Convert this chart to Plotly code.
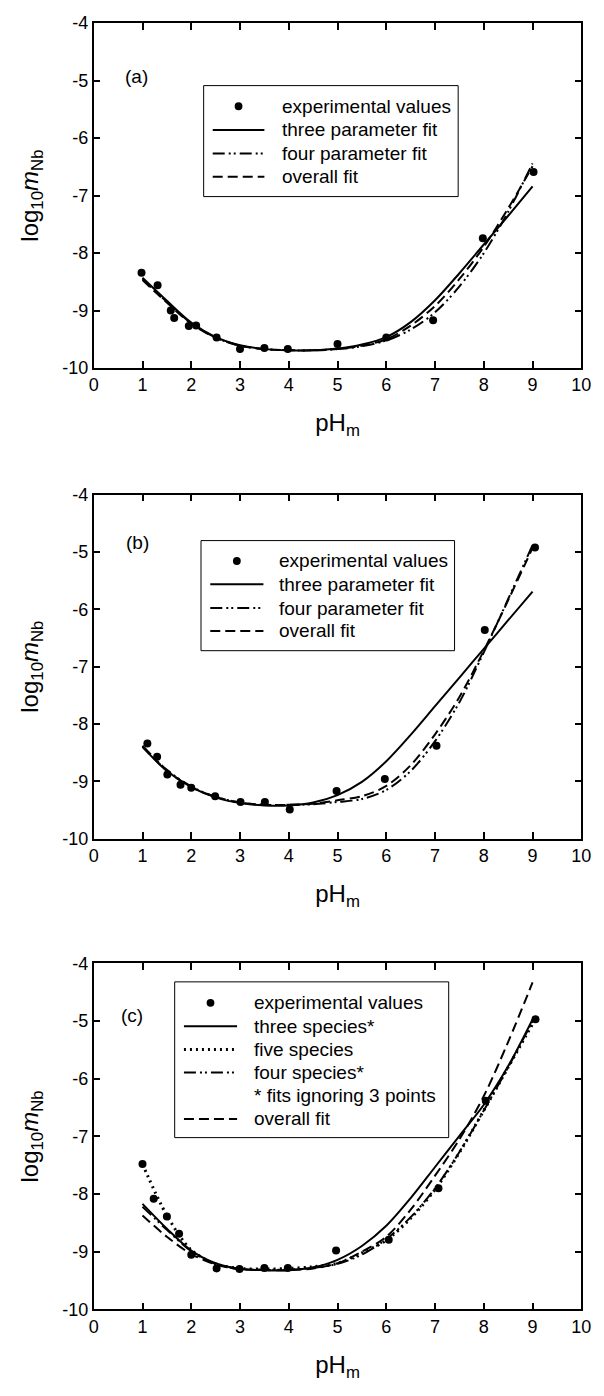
import plotly.graph_objects as go

W, H = 604, 1396

# ---------------- data ----------------
fit_x = [1.0, 1.5, 2.0, 2.5, 3.0, 3.5, 4.0, 4.5, 5.0, 5.5, 6.0, 6.5, 7.0, 7.5, 8.0, 8.5, 9.0]

# panel (a)
a_exp_x = [0.98, 1.31, 1.58, 1.65, 1.95, 2.10, 2.52, 3.00, 3.50, 3.98, 5.00, 6.00, 6.96, 7.98, 9.02]
a_exp_y = [-8.34, -8.56, -9.00, -9.13, -9.27, -9.26, -9.47, -9.67, -9.65, -9.67, -9.58, -9.47, -9.17, -7.74, -6.59]
a_three = [-8.43, -8.83, -9.21, -9.46, -9.60, -9.67, -9.69, -9.69, -9.66, -9.59, -9.46, -9.20, -8.82, -8.35, -7.85, -7.35, -6.84]
a_four = [-8.45, -8.85, -9.22, -9.47, -9.61, -9.67, -9.69, -9.69, -9.67, -9.62, -9.52, -9.33, -9.03, -8.58, -8.00, -7.28, -6.44]
a_overall = [-8.47, -8.86, -9.23, -9.47, -9.61, -9.67, -9.69, -9.69, -9.67, -9.61, -9.50, -9.26, -8.92, -8.45, -7.89, -7.22, -6.49]

# panel (b)
b_exp_x = [1.10, 1.30, 1.51, 1.78, 2.00, 2.49, 3.01, 3.51, 4.02, 4.98, 5.97, 7.03, 8.02, 9.05]
b_exp_y = [-8.34, -8.57, -8.88, -9.06, -9.11, -9.26, -9.36, -9.36, -9.49, -9.17, -8.96, -8.38, -6.36, -4.92]
b_three = [-8.40, -8.82, -9.10, -9.28, -9.38, -9.42, -9.42, -9.37, -9.24, -9.01, -8.65, -8.19, -7.69, -7.19, -6.69, -6.19, -5.69]
b_four = [-8.38, -8.80, -9.09, -9.27, -9.37, -9.41, -9.41, -9.40, -9.36, -9.31, -9.15, -8.82, -8.30, -7.62, -6.75, -5.82, -4.88]
b_overall = [-8.40, -8.81, -9.10, -9.27, -9.37, -9.41, -9.41, -9.39, -9.33, -9.26, -9.08, -8.72, -8.18, -7.53, -6.72, -5.84, -4.93]

# panel (c)
c_exp_x = [1.00, 1.23, 1.50, 1.75, 2.00, 2.52, 2.99, 3.50, 3.98, 4.97, 6.05, 7.07, 8.04, 9.06]
c_exp_y = [-7.48, -8.08, -8.39, -8.69, -9.05, -9.29, -9.30, -9.28, -9.28, -8.98, -8.79, -7.90, -6.38, -4.97]
c_three = [-8.17, -8.60, -8.98, -9.20, -9.30, -9.32, -9.32, -9.27, -9.14, -8.90, -8.55, -8.07, -7.53, -6.99, -6.45, -5.78, -4.97]
c_five = [-7.48, -8.37, -8.97, -9.21, -9.29, -9.30, -9.29, -9.26, -9.20, -9.02, -8.80, -8.42, -7.92, -7.28, -6.55, -5.80, -5.05]
c_four = [-8.22, -8.62, -8.99, -9.21, -9.30, -9.31, -9.31, -9.28, -9.21, -9.05, -8.78, -8.40, -7.90, -7.27, -6.55, -5.80, -5.00]
c_overall = [-8.37, -8.74, -9.04, -9.22, -9.30, -9.32, -9.32, -9.29, -9.20, -9.00, -8.74, -8.27, -7.68, -7.05, -6.30, -5.36, -4.33]

tick_vals_x = [0, 1, 2, 3, 4, 5, 6, 7, 8, 9, 10]
tick_text_x = ["0", "1", "2", "3", "4", "5", "6", "7", "8", "9", "10"]
tick_vals_y = [-10, -9, -8, -7, -6, -5, -4]
tick_text_y = ["-10", "-9", "-8", "-7", "-6", "-5", "-4"]

# ---------------- styles ----------------
FONT = "Liberation Sans, Arial, sans-serif"
SOLID = dict(color="black", width=2, dash="solid")
DASHDOT = dict(color="black", width=2, dash="12px,4px,2px,3px,2px,4px")
DASHED = dict(color="black", width=2, dash="10px,5px")
DOTTED = dict(color="black", width=3, dash="2px,4px")

fig = go.Figure()

panels = [
    dict(ax="", exp=(a_exp_x, a_exp_y),
         curves=[(a_three, SOLID), (a_four, DASHDOT), (a_overall, DASHED)]),
    dict(ax="2", exp=(b_exp_x, b_exp_y),
         curves=[(b_three, SOLID), (b_four, DASHDOT), (b_overall, DASHED)]),
    dict(ax="3", exp=(c_exp_x, c_exp_y),
         curves=[(c_three, SOLID), (c_five, DOTTED), (c_four, DASHDOT), (c_overall, DASHED)]),
]

for p in panels:
    xa, ya = "x" + p["ax"], "y" + p["ax"]
    for yv, st in p["curves"]:
        fig.add_trace(go.Scatter(x=fit_x, y=yv, mode="lines", line=dict(**st, shape="spline", smoothing=0.9),
                                 xaxis=xa, yaxis=ya, showlegend=False, hoverinfo="skip"))
    fig.add_trace(go.Scatter(x=p["exp"][0], y=p["exp"][1], mode="markers",
                             marker=dict(color="black", size=8, symbol="circle"),
                             xaxis=xa, yaxis=ya, showlegend=False))

# plot-area pixel layout (left, right, top, bottom)
areas = [(91, 591, 13.3, 363.3), (91, 591, 491.7, 840.7), (91, 591, 967.3, 1318.3)]

def px(x):
    return x / W

def py(y):
    return 1 - y / H

axis_common = dict(showline=True, linecolor="black", linewidth=1.5, mirror="ticks",
                   ticks="inside", ticklen=7, tickwidth=1.5, tickcolor="black",
                   showgrid=False, zeroline=False,
                   tickfont=dict(family=FONT, size=18, color="black"))

layout = dict(width=W, height=H, margin=dict(l=0, r=0, t=0, b=0),
              paper_bgcolor="white", plot_bgcolor="white", showlegend=False,
              font=dict(family=FONT, color="black"))

for i, (l, r, t, b) in enumerate(areas):
    suf = "" if i == 0 else str(i + 1)
    layout["xaxis" + suf] = dict(axis_common, domain=[px(l), px(r)], range=[0, 10],
                                 tickvals=tick_vals_x, ticktext=tick_text_x, anchor="y" + suf,
                                 title=dict(text="pH<sub>m</sub>", font=dict(family=FONT, size=24), standoff=20))
    layout["yaxis" + suf] = dict(axis_common, domain=[py(b), py(t)], range=[-10, -4],
                                 tickvals=tick_vals_y, ticktext=tick_text_y, anchor="x" + suf,
                                 title=dict(text="log<sub>10</sub><i>m</i><sub>Nb</sub>",
                                            font=dict(family=FONT, size=24), standoff=17))

fig.update_layout(**layout)

# panel labels
labels = [("(a)", "", 0.88, -4.93), ("(b)", "2", 0.89, -4.83), ("(c)", "3", 0.79, -4.90)]
for txt, suf, lx, ly in labels:
    fig.add_annotation(text=txt, x=lx, y=ly, xref="x" + suf, yref="y" + suf, showarrow=False,
                       xanchor="center", yanchor="middle", font=dict(family=FONT, size=19, color="black"))

# manual legends (pixel layout)
legends = [
    dict(box=(203.7, 464.7, 76.7, 189.3), line=(213, 266), text_x=282,
         rows=[(97.7, "marker", "experimental values"), (121.7, SOLID, "three parameter fit"),
               (145.7, DASHDOT, "four parameter fit"), (169.3, DASHED, "overall fit")]),
    dict(box=(201, 461, 538.3, 650), line=(210.5, 265), text_x=278.5,
         rows=[(559, "marker", "experimental values"), (582.7, SOLID, "three parameter fit"),
               (606.7, DASHDOT, "four parameter fit"), (630, DASHED, "overall fit")]),
    dict(box=(174, 455, 986, 1144), line=(183.5, 238), text_x=253,
         rows=[(1007.3, "marker", "experimental values"), (1031, SOLID, "three species*"),
               (1054.5, DOTTED, "five species"), (1078, DASHDOT, "four species*"),
               (1101.5, None, "* fits ignoring 3 points"), (1125, DASHED, "overall fit")]),
]

for lg in legends:
    x0, x1, y0, y1 = lg["box"]
    fig.add_shape(type="rect", xref="paper", yref="paper", x0=px(x0), x1=px(x1), y0=py(y1), y1=py(y0),
                  line=dict(color="black", width=1), fillcolor="white", layer="above")
    lx0, lx1 = lg["line"]
    for yy, sty, txt in lg["rows"]:
        if sty == "marker":
            cx = (lx0 + lx1) / 2
            rr = 4
            fig.add_shape(type="circle", xref="paper", yref="paper", x0=px(cx - rr), x1=px(cx + rr),
                          y0=py(yy + rr), y1=py(yy - rr), fillcolor="black", line=dict(color="black", width=0))
        elif sty is not None:
            fig.add_shape(type="line", xref="paper", yref="paper", x0=px(lx0), x1=px(lx1),
                          y0=py(yy), y1=py(yy), line=sty)
        fig.add_annotation(text=txt, x=px(lg["text_x"]), y=py(yy), xref="paper", yref="paper",
                           showarrow=False, xanchor="left", yanchor="middle",
                           font=dict(family=FONT, size=19, color="black"))

fig.write_html("out.html", config={"displayModeBar": False},
               post_script="document.body.style.margin='0px';document.body.style.overflow='hidden';")
